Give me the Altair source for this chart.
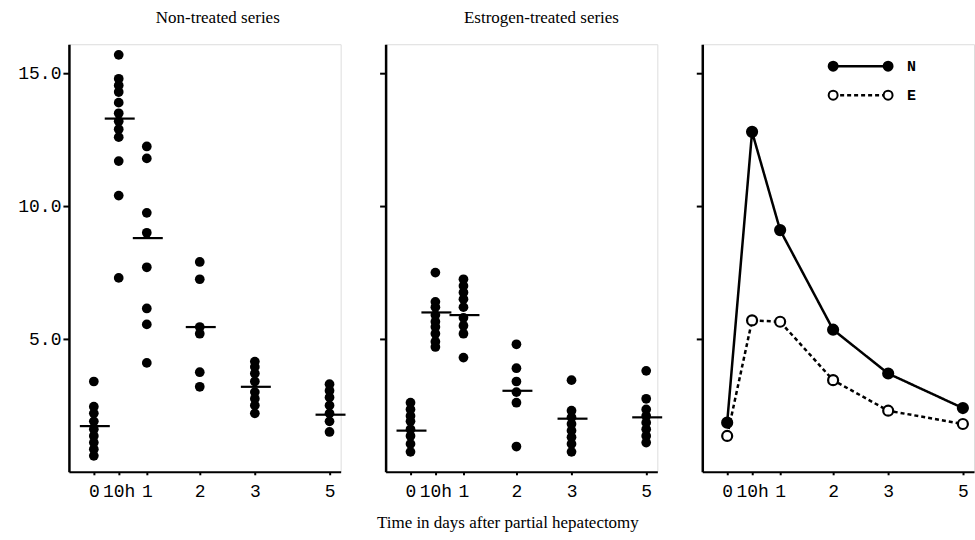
import altair as alt
import pandas as pd

SERIF = "Liberation Serif"
MONO = "Liberation Mono"

# time categories and their placement along the (hand-drawn) x axis
categories = ["0", "10h", "1", "2", "3", "5"]
x_positions = [0, 0.47, 1, 2, 3.04, 4.45]

# Non-treated series, individual values
nt_0 = [3.4, 2.45, 2.2, 1.9, 1.6, 1.35, 1.1, 0.85, 0.6]
nt_10h = [15.7, 14.8, 14.55, 14.3, 13.9, 13.5, 13.2, 12.9, 12.6, 11.7, 10.4, 7.3]
nt_1 = [12.25, 11.8, 9.75, 9.0, 7.7, 6.15, 5.55, 4.1]
nt_2 = [7.9, 7.25, 5.45, 5.2, 3.75, 3.2]
nt_3 = [4.15, 3.95, 3.7, 3.4, 3.0, 2.75, 2.5, 2.2]
nt_5 = [3.3, 3.05, 2.8, 2.5, 2.2, 1.9, 1.5]
nt_means = [1.72, 13.3, 8.8, 5.45, 3.2, 2.15]

# Estrogen-treated series, individual values
et_0 = [2.6, 2.35, 2.1, 1.9, 1.6, 1.35, 1.05, 0.75]
et_10h = [7.5, 6.4, 6.2, 5.9, 5.65, 5.45, 5.2, 4.9, 4.7]
et_1 = [7.25, 7.0, 6.75, 6.5, 6.2, 5.8, 5.5, 5.2, 4.3]
et_2 = [4.8, 3.9, 3.4, 3.0, 2.6, 0.95]
et_3 = [3.45, 2.3, 2.05, 1.8, 1.55, 1.3, 1.05, 0.75]
et_5 = [3.8, 2.75, 2.35, 2.1, 1.85, 1.6, 1.35, 1.1]
et_means = [1.55, 6.0, 5.9, 3.05, 2.0, 2.05]

# Summary curves (third panel)
series_names = ["N", "E"]
curve_N = [1.85, 12.8, 9.1, 5.35, 3.7, 2.4]
curve_E = [1.35, 5.7, 5.65, 3.45, 2.3, 1.8]

panel_titles = ["Non-treated series", "Estrogen-treated series"]
x_title = "Time in days after partial hepatectomy"
y_ticks = [5, 10, 15]


def points_frame(groups):
    rows = []
    for cat, pos, vals in zip(categories, x_positions, groups):
        for v in vals:
            rows.append({"cat": cat, "pos": pos, "value": v})
    return pd.DataFrame(rows)


def means_frame(means):
    return pd.DataFrame({"cat": categories, "pos": x_positions, "value": means})


nt_df = points_frame([nt_0, nt_10h, nt_1, nt_2, nt_3, nt_5])
et_df = points_frame([et_0, et_10h, et_1, et_2, et_3, et_5])
nt_mean_df = means_frame(nt_means)
et_mean_df = means_frame(et_means)

curve_rows = []
for name, vals in zip(series_names, [curve_N, curve_E]):
    for cat, pos, v in zip(categories, x_positions, vals):
        curve_rows.append({"series": name, "cat": cat, "pos": pos, "value": v})
curve_df = pd.DataFrame(curve_rows)

label_expr = " : ".join(
    f"datum.value == {p} ? '{c}'" for c, p in zip(categories, x_positions)
) + " : ''"

W, H = 272, 428
X_DOMAIN = [-0.47, 4.66]
Y_DOMAIN = [0, 16.1]

# styling per series
DASHES = [[1, 0], [4, 3]]
FILLS = ["black", "white"]
LEG_Y = [22, 51]          # legend rows, pixels from top of panel
LEG_X = [131, 186, 205]   # legend line start, end, label x (pixels)


def x_enc():
    return alt.X(
        "pos:Q",
        scale=alt.Scale(domain=X_DOMAIN, nice=False, zero=False),
        axis=alt.Axis(
            values=x_positions, labelExpr=label_expr, title=None, grid=False,
            tickSize=3, tickWidth=2, tickColor="black", domainWidth=2,
            domainColor="black", labelFont=MONO, labelFontSize=18,
            labelColor="black", labelPadding=8, labelFlush=False,
            labelOverlap=False,
        ),
    )


def y_enc(show_labels):
    return alt.Y(
        "value:Q",
        scale=alt.Scale(domain=Y_DOMAIN, nice=False),
        axis=alt.Axis(
            values=y_ticks, format=".1f", labels=show_labels, grid=False,
            title=None, tickSize=6, tickWidth=2, tickColor="black",
            domainWidth=2.5, domainColor="black", labelFont=MONO,
            labelFontSize=18, labelColor="black", labelPadding=2,
        ),
    )


def dot_panel(df, mean_df, show_labels, title, dx):
    pts = alt.Chart(df).mark_circle(size=95, color="black", opacity=1).encode(
        x=x_enc(), y=y_enc(show_labels)
    )
    means = alt.Chart(mean_df).mark_rule(
        color="black", strokeWidth=2.2, xOffset=-14, x2Offset=16
    ).encode(x="pos:Q", x2="pos:Q", y="value:Q")
    return alt.layer(pts, means).properties(
        width=W, height=H,
        title=alt.TitleParams(
            title, font=SERIF, fontSize=17, fontWeight="normal",
            color="black", dx=dx, offset=17,
        ),
    )


p1 = dot_panel(nt_df, nt_mean_df, True, panel_titles[0], 13)
p2 = dot_panel(et_df, et_mean_df, False, panel_titles[1], 20)

dash_scale = alt.Scale(domain=series_names, range=DASHES)
fill_scale = alt.Scale(domain=series_names, range=FILLS)

lines = alt.Chart(curve_df).mark_line(color="black", strokeWidth=2.5).encode(
    x=x_enc(), y=y_enc(False),
    strokeDash=alt.StrokeDash("series:N", scale=dash_scale, legend=None),
    detail="series:N",
)
dots = alt.Chart(curve_df).mark_point(
    shape="circle", size=100, color="black", strokeWidth=2.2, opacity=1,
).encode(
    x="pos:Q", y="value:Q",
    fill=alt.Fill("series:N", scale=fill_scale, legend=None),
)

legend_layers = []
for name, dash, fill, ly in zip(series_names, DASHES, FILLS, LEG_Y):
    ldf = pd.DataFrame({"series": [name]})
    base = alt.Chart(ldf)
    legend_layers.append(
        base.mark_rule(color="black", strokeWidth=2.5, strokeDash=dash).encode(
            x=alt.value(LEG_X[0]), x2=alt.value(LEG_X[1]), y=alt.value(ly)
        )
    )
    for lx in LEG_X[:2]:
        legend_layers.append(
            base.mark_point(shape="circle", size=80, color="black", fill=fill,
                            strokeWidth=2, opacity=1, fillOpacity=1).encode(
                x=alt.value(lx), y=alt.value(ly)
            )
        )
    legend_layers.append(
        base.mark_text(font=MONO, fontSize=15, fontWeight="bold", align="left",
                       color="black").encode(
            x=alt.value(LEG_X[2]), y=alt.value(ly), text="series:N"
        )
    )

p3 = alt.layer(lines, dots, *legend_layers).properties(width=W, height=H)

chart = alt.hconcat(p1, p2, p3, spacing=45, bounds="flush").properties(
    padding={"left": 17, "top": 8, "right": 0, "bottom": 0},
    title=alt.TitleParams(
        x_title, orient="bottom", anchor="middle", font=SERIF, fontSize=17,
        fontWeight="normal", color="black", dx=12, offset=14,
    ),
).configure_view(stroke=None).configure(background="white")

chart.save("out.html", embed_options={"renderer": "svg", "actions": False})
